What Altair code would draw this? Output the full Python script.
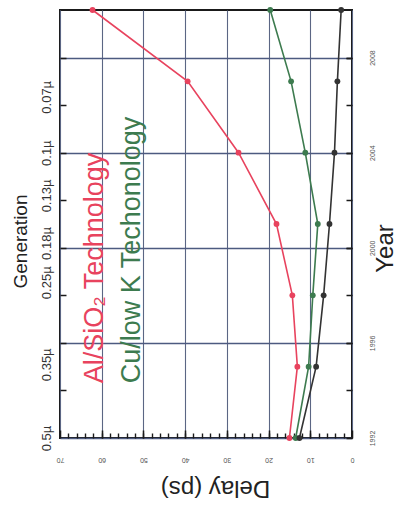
import altair as alt
import pandas as pd

# ---- data ----
years = [1992, 1995, 1998, 2001, 2004, 2007, 2010]
al_sio2 = [15.0, 13.1, 14.3, 18.1, 27.2, 39.4, 62.2]
cu_lowk = [13.5, 10.4, 9.4, 8.2, 11.2, 14.6, 19.6]
gate = [12.6, 8.6, 6.8, 5.4, 4.2, 3.5, 2.6]
series_names = ["Al/SiO2", "Cu/low K", "Gate"]
series_colors = ["#e8435e", "#3d7b4f", "#333333"]

delay_major = [0, 10, 20, 30, 40, 50, 60, 70]
delay_minor = list(range(2, 70, 2))
year_major = [1992, 1996, 2000, 2004, 2008]
year_minor = list(range(1994, 2010, 2))
generation_labels = ["0.5µ", "0.35µ", "0.25µ", "0.18µ", "0.13µ", "0.1µ", "0.07µ"]
generation_pos = [1992.0, 1995.1, 1998.55, 2000.2, 2002.2, 2004.0, 2006.35]

rows = []
for name, vals in zip(series_names, [al_sio2, cu_lowk, gate]):
    for yr, v in zip(years, vals):
        rows.append({"series": name, "year": yr, "delay": v})
df = pd.DataFrame(rows)
one = pd.DataFrame({"k": [0]})

FONT = "Liberation Sans"
TICK = "#1a1a1a"
xscale = alt.Scale(domain=[0, 70], reverse=True, nice=False, zero=False)
yscale = alt.Scale(domain=[1992, 2010], nice=False, zero=False)


def X(axis):
    return alt.X("delay:Q", scale=xscale, axis=axis)


def Y(axis):
    return alt.Y("year:Q", scale=yscale, axis=axis)


ax_bottom = alt.Axis(
    orient="bottom", values=delay_major, offset=-8, tickSize=8, tickColor=TICK,
    tickWidth=1.5, domain=False, grid=True, gridColor="#5b6684", gridWidth=1.1,
    labelAngle=180, labelAlign="center",
    labelBaseline="middle", labelPadding=21, labelFontSize=7, labelColor="#555",
    labelFont=FONT, title="Delay (ps)", titleAngle=180, titleFontSize=24,
    titleFont=FONT, titleFontWeight="normal", titleColor="#222", titleX=155,
    titleY=57, titleAlign="center", titleBaseline="middle",
)
ax_right = alt.Axis(
    orient="right", values=year_major, offset=-6, tickSize=6, tickColor=TICK,
    tickWidth=1.5, domain=False, grid=True, gridColor="#4d5a80", gridWidth=1.7,
    format="d", labelAngle=270, labelAlign="center",
    labelBaseline="middle", labelPadding=20, labelFontSize=7, labelColor="#555",
    labelFont=FONT, title="Year", titleAngle=270, titleFontSize=24, titleFont=FONT,
    titleFontWeight="normal", titleColor="#222", titleX=39, titleY=238,
    titleAlign="center", titleBaseline="middle",
)
ax_bottom_minor = alt.Axis(
    orient="bottom", values=delay_minor, offset=-5, tickSize=5, tickColor=TICK,
    tickWidth=1.4, domain=False, grid=False, labels=False, title="",
)
ax_right_minor = alt.Axis(
    orient="right", values=year_minor, offset=-6, tickSize=6, tickColor=TICK,
    tickWidth=1.5, domain=False, grid=False, labels=False, title="",
)
label_expr = "{}[indexof({}, datum.value)]".format(
    "[" + ",".join("'" + s + "'" for s in generation_labels) + "]",
    "[" + ",".join(str(v) for v in generation_pos) + "]",
)
ax_generation = alt.Axis(
    orient="left", values=generation_pos, ticks=False, tickSize=0, domain=False,
    grid=False, labelExpr=label_expr, labelAngle=270, labelAlign="center",
    labelBaseline="middle", labelPadding=14, labelFontSize=13, labelColor="#333",
    labelFont=FONT, title="Generation", titleAngle=270, titleFontSize=19,
    titleFont=FONT, titleFontWeight="normal", titleColor="#222", titleX=-40,
    titleY=231, titleAlign="center", titleBaseline="middle",
)
ax_left_minor = alt.Axis(
    orient="left", values=year_minor, offset=-6, tickSize=6, tickColor=TICK,
    tickWidth=1.5, domain=False, grid=False, labels=False, title="",
)

base = alt.Chart(df)

lines = base.mark_line(
    strokeWidth=1.6, point=alt.OverlayMarkDef(filled=True, size=34)
).encode(
    x=X(ax_bottom),
    y=Y(ax_right),
    color=alt.Color("series:N", scale=alt.Scale(domain=series_names, range=series_colors), legend=None),
    order=alt.Order("year:Q"),
)
bottom_minor = base.mark_point(opacity=0).encode(x=X(ax_bottom_minor), y=Y(None))
right_minor = base.mark_point(opacity=0).encode(x=X(None), y=Y(ax_right_minor))
left_minor = base.mark_point(opacity=0).encode(x=X(None), y=Y(ax_left_minor))
gen = base.mark_point(opacity=0).encode(x=X(None), y=Y(ax_generation))

leg_al = alt.Chart(one).mark_text(
    angle=270, align="left", baseline="alphabetic", fontSize=27, font=FONT,
    color=series_colors[0], text="Al/SiO₂ Technology",
).encode(
    x=alt.XDatum(59.7, scale=xscale, axis=None),
    y=alt.YDatum(1994.3, scale=yscale, axis=None),
)
leg_cu = alt.Chart(one).mark_text(
    angle=270, align="left", baseline="alphabetic", fontSize=27, font=FONT,
    color=series_colors[1], text="Cu/low K Techonology",
).encode(
    x=alt.XDatum(50.8, scale=xscale, axis=None),
    y=alt.YDatum(1994.3, scale=yscale, axis=None),
)

chart = alt.layer(
    bottom_minor, right_minor, left_minor, gen, lines, leg_al, leg_cu
).resolve_axis(
    x="independent", y="independent"
).properties(
    width=292,
    height=428,
    autosize=alt.AutoSizeParams(type="none"),
    padding={"left": 60, "top": 10, "right": 50, "bottom": 69},
    background="white",
).configure_view(
    stroke="#1a1a1a", strokeWidth=2
)

chart.save("out.html", embed_options={"renderer": "svg", "actions": False})
